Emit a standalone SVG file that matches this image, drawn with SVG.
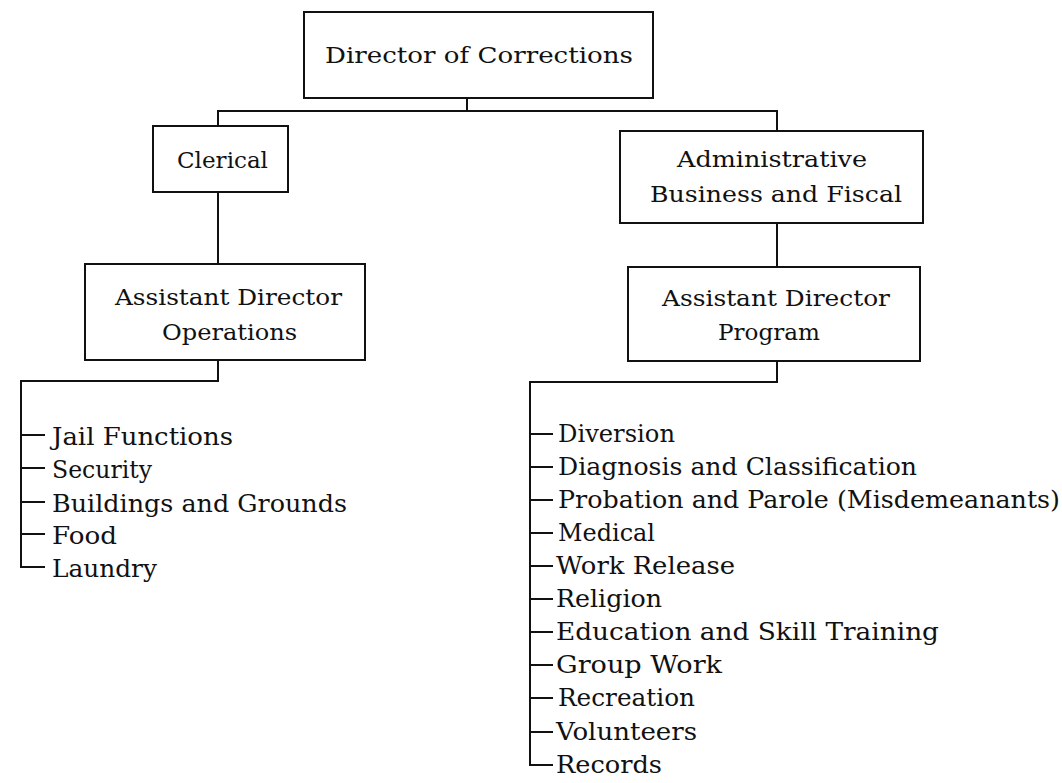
<svg xmlns="http://www.w3.org/2000/svg" width="1062" height="783" viewBox="0 0 1062 783">
  <style>
    .box { fill: #fff; stroke: #111; stroke-width: 2; }
    .wire { fill: none; stroke: #111; stroke-width: 2; }
    .lbl { font-family: "DejaVu Serif", "Liberation Serif", serif; font-size: 23px; fill: #111; }
    .item { font-size: 24px; }
  </style>
  <rect width="1062" height="783" fill="#fff"/>

  <!-- connectors -->
  <g id="connectors" class="wire">
    <path d="M467 98 V111"/>
    <path d="M218 126 V111 H777 V131"/>
    <path d="M218 192 V264"/>
    <path d="M777 223 V267"/>
    <path d="M218 360 V381 H21 V567 H45"/>
    <path d="M21 435 H45 M21 468 H45 M21 502 H45 M21 534 H45"/>
    <path d="M777 361 V382 H530 V765 H553"/>
    <path d="M530 434 H553 M530 467 H553 M530 500 H553 M530 533 H553 M530 566 H553 M530 599 H553 M530 632 H553 M530 665 H553 M530 698 H553 M530 732 H553"/>
  </g>

  <g id="director">
    <rect class="box" x="304" y="12" width="349" height="86"/>
    <text class="lbl" x="325" y="63" textLength="308" lengthAdjust="spacingAndGlyphs">Director of Corrections</text>
  </g>

  <g id="clerical">
    <rect class="box" x="153" y="126" width="135" height="66"/>
    <text class="lbl" x="177" y="168" textLength="91" lengthAdjust="spacingAndGlyphs">Clerical</text>
  </g>

  <g id="admin">
    <rect class="box" x="620" y="131" width="303" height="92"/>
    <text class="lbl" x="677" y="167" textLength="190" lengthAdjust="spacingAndGlyphs">Administrative</text>
    <text class="lbl" x="650" y="202" textLength="252" lengthAdjust="spacingAndGlyphs">Business and Fiscal</text>
  </g>

  <g id="ops">
    <rect class="box" x="85" y="264" width="280" height="96"/>
    <text class="lbl" x="115" y="305" textLength="227" lengthAdjust="spacingAndGlyphs">Assistant Director</text>
    <text class="lbl" x="162" y="340" textLength="135" lengthAdjust="spacingAndGlyphs">Operations</text>
  </g>

  <g id="program">
    <rect class="box" x="628" y="267" width="292" height="94"/>
    <text class="lbl" x="662" y="306" textLength="228" lengthAdjust="spacingAndGlyphs">Assistant Director</text>
    <text class="lbl" x="718" y="340" textLength="102" lengthAdjust="spacingAndGlyphs">Program</text>
  </g>

  <g id="ops-units">
    <text class="lbl item" x="52" y="445" textLength="181" lengthAdjust="spacingAndGlyphs">Jail Functions</text>
    <text class="lbl item" x="52" y="478" textLength="100" lengthAdjust="spacingAndGlyphs">Security</text>
    <text class="lbl item" x="52" y="512" textLength="295" lengthAdjust="spacingAndGlyphs">Buildings and Grounds</text>
    <text class="lbl item" x="52" y="544" textLength="65" lengthAdjust="spacingAndGlyphs">Food</text>
    <text class="lbl item" x="52" y="577" textLength="105" lengthAdjust="spacingAndGlyphs">Laundry</text>
  </g>

  <g id="program-units">
    <text class="lbl item" x="558" y="442" textLength="117" lengthAdjust="spacingAndGlyphs">Diversion</text>
    <text class="lbl item" x="558" y="475" textLength="359" lengthAdjust="spacingAndGlyphs">Diagnosis and Classification</text>
    <text class="lbl item" x="558" y="508" textLength="502" lengthAdjust="spacingAndGlyphs">Probation and Parole (Misdemeanants)</text>
    <text class="lbl item" x="558" y="541" textLength="97" lengthAdjust="spacingAndGlyphs">Medical</text>
    <text class="lbl item" x="556" y="574" textLength="179" lengthAdjust="spacingAndGlyphs">Work Release</text>
    <text class="lbl item" x="556" y="607" textLength="106" lengthAdjust="spacingAndGlyphs">Religion</text>
    <text class="lbl item" x="556" y="640" textLength="383" lengthAdjust="spacingAndGlyphs">Education and Skill Training</text>
    <text class="lbl item" x="556" y="673" textLength="166" lengthAdjust="spacingAndGlyphs">Group Work</text>
    <text class="lbl item" x="558" y="706" textLength="137" lengthAdjust="spacingAndGlyphs">Recreation</text>
    <text class="lbl item" x="556" y="740" textLength="141" lengthAdjust="spacingAndGlyphs">Volunteers</text>
    <text class="lbl item" x="556" y="773" textLength="106" lengthAdjust="spacingAndGlyphs">Records</text>
  </g>
</svg>
